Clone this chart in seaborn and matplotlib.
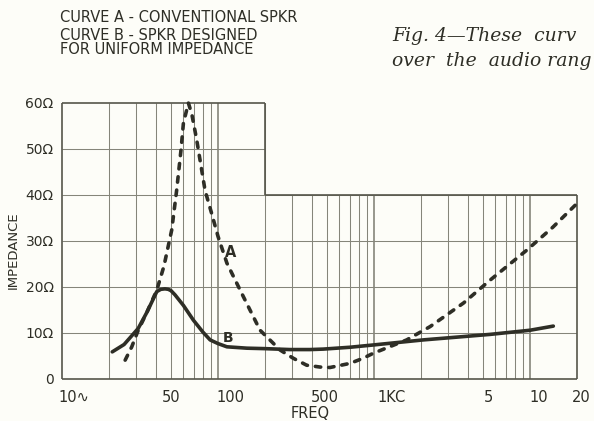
import matplotlib
matplotlib.use("Agg")
import matplotlib.pyplot as plt
import pandas as pd
import seaborn as sns
from matplotlib.transforms import ScaledTranslation

# Curve A: conventional speaker (dashed)
freq_a = [25.4, 28, 30.8, 35, 40.5, 45, 50.5, 54.3, 58, 60, 64.6, 68, 73, 82.6,
          91, 100, 114, 142, 186, 250, 304, 370, 450, 522, 702, 850, 990,
          1300, 1620, 2290, 3740, 5550, 9520, 14000, 19500]
imp_a = [4.1, 7.0, 10.6, 14.5, 19.3, 24.5, 32.4, 41, 50, 55.6, 60, 57.5, 52, 41,
         36, 31, 25.2, 18.6, 10.6, 6.3, 4.5, 3.0, 2.6, 2.5, 3.4, 4.5, 5.6,
         7.2, 8.5, 11.4, 16.5, 21.5, 28, 33, 37.8]

# Curve B: speaker designed for uniform impedance (solid)
freq_b = [21, 25, 30.8, 35, 40.5, 43, 45.7, 48, 50, 53, 60, 69.5, 80, 89, 100, 114,
          153, 200, 289, 389, 473, 700, 990, 2070, 5550, 10000, 14100]
imp_b = [5.9, 7.5, 11.0, 14.5, 19.0, 19.5, 19.6, 19.5, 19.2, 18.3, 16.0, 12.8, 10.2, 8.5, 7.7, 7.0,
         6.7, 6.6, 6.4, 6.4, 6.5, 6.9, 7.4, 8.5, 9.7, 10.6, 11.5]

x_ticks = [10, 50, 100, 500, 1000, 5000, 10000, 20000]
x_tick_labels = ["10\u223f", "50", "100", "500", "1KC", "5", "10", "20"]
y_ticks = [0, 10, 20, 30, 40, 50, 60]
y_tick_labels = ["0", "10\u03a9", "20\u03a9", "30\u03a9", "40\u03a9", "50\u03a9", "60\u03a9"]

# Chart paper grid lines
grid_freqs = ([20, 30, 40, 50, 60, 70, 80, 90] + [100, 200, 300, 400, 500, 600, 700, 800, 900]
              + [1000, 2000, 3000, 4000, 5000, 6000, 7000, 8000, 9000, 10000])
tall_limit = 200  # the paper extends up to 60 ohms below this frequency

sns.set_theme(style="white")
plt.rcParams["font.family"] = ["DejaVu Sans"]

bg = "#fdfdf8"
ink = "#2e2e26"
grid_c = "#85857a"

fig = plt.figure(figsize=(5.94, 4.21), dpi=100, facecolor=bg)
W, H = 594, 421
left, right, top, bottom = 62, 577, 103, 379
ax = fig.add_axes([left / W, (H - bottom) / H, (right - left) / W, (bottom - top) / H])
ax.set_facecolor("none")
ax.set_xscale("log")
ax.set_xlim(10, 20000)
ax.set_ylim(0, 60)
for s in ax.spines.values():
    s.set_visible(False)

# vertical grid lines
for f in grid_freqs:
    top_val = 60 if f <= tall_limit else 40
    lw = 1.2 if f in (100, 1000, 10000) else 0.75
    ax.vlines(f, 0, top_val, color=grid_c, lw=lw, zorder=1)
# horizontal grid lines
for z in [10, 20, 30, 40]:
    ax.hlines(z, 10, 20000, color=grid_c, lw=0.75, zorder=1)
for z in [50]:
    ax.hlines(z, 10, tall_limit, color=grid_c, lw=0.75, zorder=1)
# outline of the paper
ol = dict(color="#55554a", lw=1.2, zorder=2, clip_on=False)
ax.vlines(10, 0, 60, **ol)
ax.vlines(20000, 0, 40, **ol)
ax.vlines(tall_limit, 40, 60, **ol)
ax.hlines(0, 10, 20000, **ol)
ax.hlines(60, 10, tall_limit, **ol)
ax.hlines(40, tall_limit, 20000, **ol)

df_a = pd.DataFrame({"freq": freq_a, "imp": imp_a})
df_b = pd.DataFrame({"freq": freq_b, "imp": imp_b})
sns.lineplot(data=df_b, x="freq", y="imp", ax=ax, color=ink, lw=2.6,
             solid_capstyle="round", estimator=None, sort=False, zorder=4, clip_on=False)
sns.lineplot(data=df_a, x="freq", y="imp", ax=ax, color=ink, lw=2.6,
             linestyle=(0, (1.5, 2.2)), dash_capstyle="round",
             estimator=None, sort=False, zorder=4, clip_on=False)

ax.text(120, 27.4, "A", fontsize=10.5, fontweight="bold", color=ink, ha="center", va="center", zorder=5)
ax.text(116, 9.0, "B", fontsize=10, fontweight="bold", color=ink, ha="center", va="center", zorder=5)

ax.set_xlabel("")
ax.set_ylabel("")
ax.set_yticks(y_ticks)
ax.set_yticklabels(y_tick_labels, fontsize=10, color=ink)
ax.set_xticks(x_ticks)
ax.set_xticklabels(x_tick_labels, fontsize=10.5, color=ink)
ax.xaxis.set_minor_locator(matplotlib.ticker.NullLocator())
ax.tick_params(axis="both", length=0)
ax.tick_params(axis="y", pad=6)
ax.tick_params(axis="x", pad=8)

# nudge individual frequency labels
shifts = {"10\u223f": 12, "100": 12, "500": -2, "1KC": 18, "5": 5, "10": 9, "20": 4}
for lab in ax.get_xticklabels():
    dx = shifts.get(lab.get_text(), 0)
    lab.set_transform(lab.get_transform() + ScaledTranslation(dx / 100, 0, fig.dpi_scale_trans))

fig.text(310 / W, 1 - 413 / H, "FREQ", fontsize=10.5, color=ink, ha="center", va="center")
fig.text(13 / W, 1 - 250 / H, "IMPEDANCE", fontsize=9.5, color=ink, ha="center", va="center",
         rotation=90)

hdr = dict(fontsize=10.5, color=ink, ha="left", va="center")
fig.text(60 / W, 1 - 17 / H, "CURVE A - CONVENTIONAL SPKR", **hdr)
fig.text(60 / W, 1 - 35 / H, "CURVE B - SPKR DESIGNED", **hdr)
fig.text(60 / W, 1 - 50 / H, "FOR UNIFORM IMPEDANCE", **hdr)

# caption lines run into the right margin of the page
cap = dict(fontsize=13.5, color=ink, ha="left", va="center", style="italic",
           family=["DejaVu Serif"])
fig.text(392 / W, 1 - 36 / H, "Fig. 4\u2014These  curv", **cap)
fig.text(392 / W, 1 - 61 / H, "over  the  audio rang", **cap)

fig.savefig("out.png", dpi=100, facecolor=bg)
